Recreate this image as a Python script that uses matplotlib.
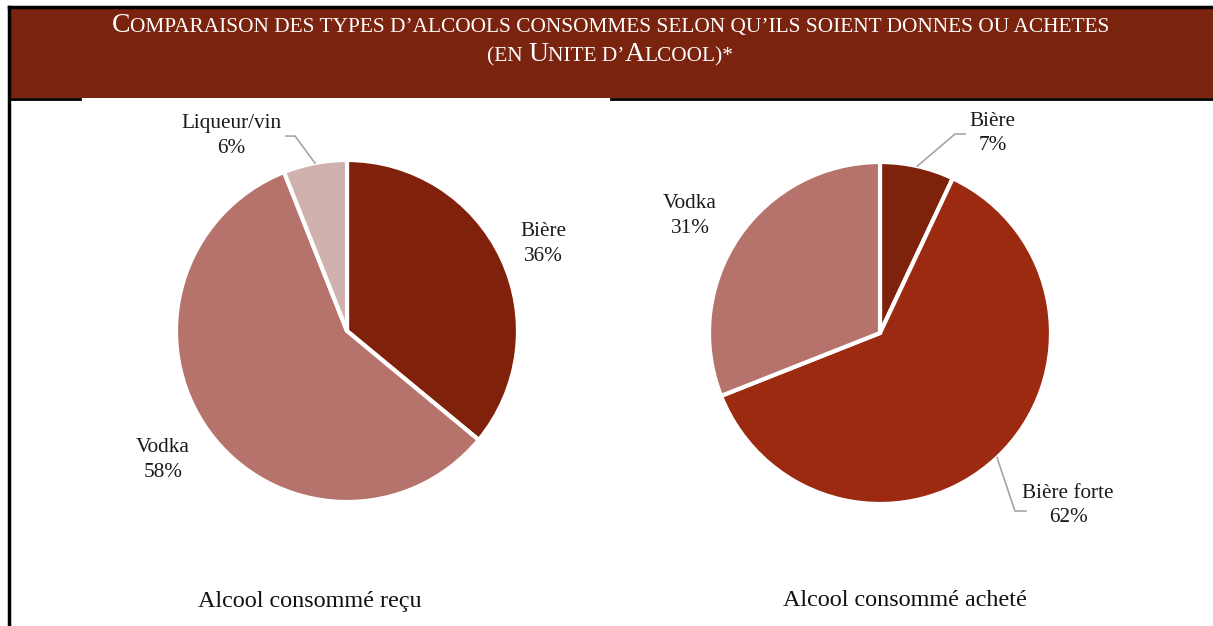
import numpy as np
import matplotlib
matplotlib.use('Agg')
import matplotlib.pyplot as plt
from matplotlib.patches import Rectangle

plt.rcParams['font.family'] = ['Liberation Serif', 'DejaVu Serif']

# data
recu_labels = ['Bière', 'Vodka', 'Liqueur/vin']
recu_values = [36, 58, 6]
recu_colors = ['#80210B', '#B5736B', '#D1B1AE']

achete_labels = ['Bière', 'Bière forte', 'Vodka']
achete_values = [7, 62, 31]
achete_colors = ['#7E220C', '#9B2A10', '#B5736B']

subtitles = ['Alcool consommé reçu', 'Alcool consommé acheté']

# label positions (pie radius units) and leader bends, per wedge
recu_label_pos = [(1.146, 0.51), (-1.076, -0.754), (-0.678, 1.14)]
recu_leaders = [None, None, [(-0.304, 1.14), (-0.357, 1.14)]]
achete_label_pos = [(0.66, 1.167), (1.10, -1.009), (-1.11, 0.684)]
achete_leaders = [[(0.439, 1.164), (0.497, 1.164)], [(0.789, -1.041), (0.854, -1.041)], None]

W, H = 1213, 626
fig = plt.figure(figsize=(W / 100, H / 100), dpi=100)

# header band and frame
fig.patches.append(Rectangle((8 / W, 1 - 98 / H), 1, 91 / H, transform=fig.transFigure,
                             facecolor='#7A240F', edgecolor='none', zorder=0))
fig.add_artist(plt.Line2D([8.5 / W, 1], [1 - 6.5 / H] * 2, color='black', lw=2.5, transform=fig.transFigure))
fig.add_artist(plt.Line2D([8.5 / W, 8.5 / W], [0, 1 - 6.5 / H], color='black', lw=2.5, transform=fig.transFigure))
fig.add_artist(plt.Line2D([8.5 / W, 80 / W], [1 - 99 / H] * 2, color='black', lw=2, transform=fig.transFigure))
fig.add_artist(plt.Line2D([611 / W, 1], [1 - 99 / H] * 2, color='black', lw=2, transform=fig.transFigure))

# small caps title
renderer = fig.canvas.get_renderer()


def small_caps_line(runs, baseline, big=20, small=15.4):
    pieces = []
    for txt, is_big in runs:
        t = fig.text(0, 0, txt, color='white', fontsize=big if is_big else small,
                     va='baseline', ha='left')
        w = t.get_window_extent(renderer).width
        pieces.append((t, w))
    total = sum(w for _, w in pieces)
    x = (W + 8) / 2 - total / 2
    for t, w in pieces:
        t.set_position((x / W, 1 - baseline / H))
        x += w


small_caps_line([('C', True), ('OMPARAISON DES TYPES D’ALCOOLS CONSOMMES SELON QU’ILS SOIENT DONNES OU ACHETES', False)], 32)
small_caps_line([('(EN ', False), ('U', True), ('NITE D’', False), ('A', True), ('LCOOL)*', False)], 61)

R = 171


def draw_pie(cx, cy, values, colors, labels, label_pos, leaders, subtitle, sub_x):
    ax = fig.add_axes([(cx - R) / W, 1 - (cy + R) / H, 2 * R / W, 2 * R / H])
    ax.pie(values, colors=colors, startangle=90, counterclock=False, radius=1,
           wedgeprops=dict(edgecolor='white', linewidth=3))
    ax.set_xlim(-1, 1)
    ax.set_ylim(-1, 1)
    ax.set_aspect('equal')
    ax.axis('off')
    fracs = np.cumsum([0] + values) / sum(values)
    for i, (lab, v) in enumerate(zip(labels, values)):
        lx, ly = label_pos[i]
        ax.text(lx, ly, f'{lab}\n{v}%', ha='center', va='center', fontsize=15.3,
                linespacing=1.4, color='#1a1a1a', clip_on=False)
        if leaders[i] is not None:
            mid = np.deg2rad(90 - (fracs[i] + fracs[i + 1]) / 2 * 360)
            xs = [np.cos(mid)] + [p[0] for p in leaders[i]]
            ys = [np.sin(mid)] + [p[1] for p in leaders[i]]
            ax.plot(xs, ys, color='#A6A6A6', lw=1.2, clip_on=False)
    fig.text(sub_x / W, 1 - 601 / H, subtitle, ha='center', va='center', fontsize=17.4, color='#111111')


draw_pie(347, 331, recu_values, recu_colors, recu_labels, recu_label_pos, recu_leaders, subtitles[0], 310)
draw_pie(880, 333, achete_values, achete_colors, achete_labels, achete_label_pos, achete_leaders, subtitles[1], 905)

fig.savefig('out.png', dpi=100)
